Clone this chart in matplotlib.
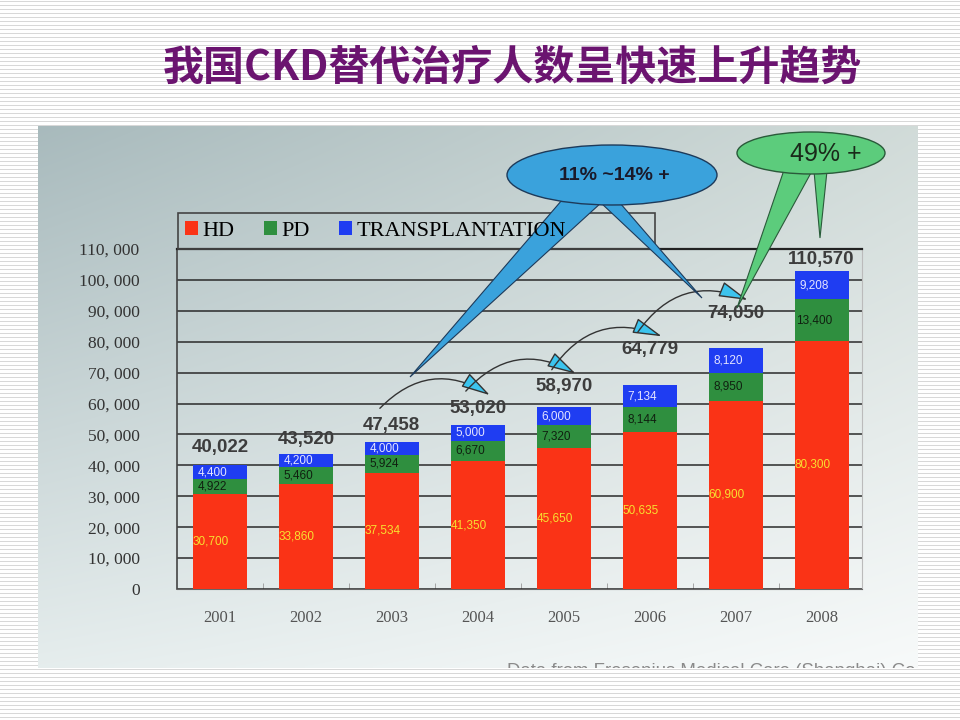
import numpy as np
import matplotlib
matplotlib.use('Agg')
import matplotlib.pyplot as plt
from matplotlib.patches import Ellipse, Polygon, Rectangle
from matplotlib.ticker import FuncFormatter

# ---------------- data ----------------
years = ['2001', '2002', '2003', '2004', '2005', '2006', '2007', '2008']
hd = [30700, 33860, 37534, 41350, 45650, 50635, 60900, 80300]
pd_ = [4922, 5460, 5924, 6670, 7320, 8144, 8950, 13400]
tx = [4400, 4200, 4000, 5000, 6000, 7134, 8120, 9208]
totals = [40022, 43520, 47458, 53020, 58970, 64779, 74050, 110570]
series_names = ['HD', 'PD', 'TRANSPLANTATION']
title = '我国CKD替代治疗人数呈快速上升趋势'
note_blue = '11% ~14% +'
note_green = '49% +'
source = 'Data from Fresenius Medical Care (Shanghai) Co.'

# label gaps above stacks (pixels)
label_gap_px = [18, 15, 17, 17, 20, 36, 35, 11]

W, H = 960, 720
fig = plt.figure(figsize=(9.6, 7.2), dpi=100)


def rect(x0, y0, x1, y1):
    return [x0 / W, 1 - y1 / H, (x1 - x0) / W, (y1 - y0) / H]


# striped slide background
bg = fig.add_axes([0, 0, 1, 1], zorder=0)
stripe = np.ones((H, W, 3))
stripe[1::4] = 0.85
bg.imshow(stripe, extent=(0, W, H, 0), aspect='auto', interpolation='nearest')
bg.set_xlim(0, W); bg.set_ylim(H, 0); bg.set_axis_off()

fig.text(512 / W, 1 - 68 / H, title, fontsize=29.5, fontweight='bold',
         color='#6b1470', ha='center', va='center',
         family=['Noto Sans CJK SC', 'DejaVu Sans'])

# photo background
photo = fig.add_axes(rect(38, 126, 918, 668), zorder=0.5)
tl = np.array([0.66, 0.73, 0.74]); tr = np.array([0.82, 0.86, 0.85])
bl = np.array([0.90, 0.93, 0.93]); br = np.array([0.97, 0.98, 0.98])
u = np.linspace(0, 1, 200)[None, :, None]
v = np.linspace(0, 1, 150)[:, None, None]
grad = (1 - u) * (1 - v) * tl + u * (1 - v) * tr + (1 - u) * v * bl + u * v * br
photo.imshow(grad, extent=(38, 918, 668, 126), aspect='auto', interpolation='bilinear')
photo.set_xlim(38, 918); photo.set_ylim(668, 126); photo.set_axis_off()
photo.text(507, 672, source, fontsize=13.4, color='#8a8a8a', ha='left', va='center',
           family='Liberation Sans', clip_on=True)

# chart axes
ax = fig.add_axes(rect(177, 249, 862, 589), zorder=1)
ax.set_facecolor('none')
x = np.arange(len(years))
width = 0.63
hd_a = np.array(hd); pd_a = np.array(pd_); tx_a = np.array(tx)
b1 = ax.bar(x, hd_a, width, color='#fa3316', zorder=3, label=series_names[0])
b2 = ax.bar(x, pd_a, width, bottom=hd_a, color='#2f8f3f', zorder=3, label=series_names[1])
b3 = ax.bar(x, tx_a, width, bottom=hd_a + pd_a, color='#1f3df2', zorder=3, label=series_names[2])
ax.set_xlim(-0.5, 7.47)
ax.set_ylim(0, 110000)
ax.set_yticks(np.arange(0, 110001, 10000))
ax.yaxis.set_major_formatter(FuncFormatter(
    lambda val, _: '0' if val == 0 else f'{int(val):,}'.replace(',', ', ')))
ax.yaxis.grid(True, color='#2a2a2a', lw=1.1)
ax.set_axisbelow(True)
ax.tick_params(axis='y', length=0, pad=27, labelsize=12.5, labelcolor='#333333')
ax.set_xticks(x, years)
ax.tick_params(axis='x', length=0, pad=15, labelsize=12, labelcolor='#555555')
ax.set_xticks(x[:-1] + 0.5, minor=True)
ax.tick_params(axis='x', which='minor', length=4, direction='in', color='#999999')
for lab in ax.get_yticklabels() + ax.get_xticklabels():
    lab.set_fontfamily('Liberation Serif')
ax.spines['left'].set_color('#444444'); ax.spines['left'].set_linewidth(1.2)
ax.spines['bottom'].set_color('#666666')
ax.spines['top'].set_color('#222222'); ax.spines['top'].set_linewidth(1.6)
ax.spines['right'].set_color('#bbbbbb'); ax.spines['right'].set_linewidth(0.8)

unit_per_px_y = 110000 / 340
unit_per_px_x = 1 / 85.9
tops = hd_a + pd_a + tx_a
label_y = []
for i in range(len(years)):
    ax.text(i - width / 2, hd_a[i] / 2, f'{hd[i]:,}', ha='left', va='center',
            color='#f8e030', fontsize=8.5, zorder=4, family='Liberation Sans')
    ax.text(i - 0.09, hd_a[i] + pd_a[i] / 2, f'{pd_[i]:,}', ha='center', va='center',
            color='#102010', fontsize=8.5, zorder=4, family='Liberation Sans')
    ax.text(i - 0.09, hd_a[i] + pd_a[i] + tx_a[i] / 2, f'{tx[i]:,}', ha='center',
            va='center', color='#e4e4ff', fontsize=8.5, zorder=4, family='Liberation Sans')
    ly = tops[i] + label_gap_px[i] * unit_per_px_y
    label_y.append(ly)
    ax.text(i, ly, f'{totals[i]:,}', ha='center', va='center', fontsize=13.5,
            fontweight='bold', color='#3d3d3d', zorder=5, family='Liberation Sans',
            clip_on=False)

# curved growth arrows between total labels
for i in range(2, 6):
    start = (i - 12 * unit_per_px_x, label_y[i] + 17 * unit_per_px_y)
    end = (i + 1 + 12 * unit_per_px_x, label_y[i + 1] + 13 * unit_per_px_y)
    ax.annotate('', xy=end, xytext=start, annotation_clip=False, zorder=6,
                arrowprops=dict(arrowstyle='-|>,head_length=1.3,head_width=0.35',
                                fc='#3cc4ee', ec='#333333', lw=1.0,
                                connectionstyle='arc3,rad=-0.4',
                                mutation_scale=14, shrinkA=0, shrinkB=0))

# legend (drawn above callout tails)
leg = fig.legend(handles=[b1, b2, b3], labels=series_names, loc='center left',
                 bbox_to_anchor=(185 / W, 1 - 231 / H), frameon=False, ncol=3,
                 prop={'family': 'Liberation Serif', 'size': 16},
                 handlelength=0.6, handleheight=0.6, handletextpad=0.2,
                 columnspacing=1.3, borderpad=0, borderaxespad=0)
leg.set_zorder(20)

# overlay for callouts
ov = fig.add_axes([0, 0, 1, 1], zorder=10)
ov.set_xlim(0, W); ov.set_ylim(H, 0); ov.set_axis_off(); ov.patch.set_alpha(0)
ov.add_patch(Rectangle((178, 213), 477, 36, fill=False, ec='#444444', lw=1.2, zorder=1))

blue_fc, blue_ec = '#3aa2dc', '#1d3a5a'
ov.add_patch(Polygon([(562, 200), (602, 202), (410, 377)], closed=True,
                     fc=blue_fc, ec=blue_ec, lw=0.8, zorder=2))
ov.add_patch(Polygon([(600, 202), (620, 203), (702, 298)], closed=True,
                     fc=blue_fc, ec=blue_ec, lw=0.8, zorder=2))
ov.add_patch(Ellipse((612, 175), 210, 60, fc=blue_fc, ec=blue_ec, lw=1.0, zorder=3))
ov.text(614, 176, note_blue, fontsize=14, fontweight='bold', color='#1a1a2a',
        ha='center', va='center', family='Liberation Sans', zorder=4)

green_fc, green_ec = '#5ccc7c', '#2a5a3a'
ov.add_patch(Polygon([(784, 170), (812, 171), (737, 308)], closed=True,
                     fc=green_fc, ec=green_ec, lw=0.8, zorder=2))
ov.add_patch(Polygon([(814, 171), (827, 171), (820, 238)], closed=True,
                     fc=green_fc, ec=green_ec, lw=0.8, zorder=2))
ov.add_patch(Ellipse((811, 153), 148, 42, fc=green_fc, ec=green_ec, lw=1.0, zorder=3))
ov.text(826, 154, note_green, fontsize=18, color='#1a2a1a',
        ha='center', va='center', family='Liberation Sans', zorder=4)

fig.savefig('out.png', dpi=100)
